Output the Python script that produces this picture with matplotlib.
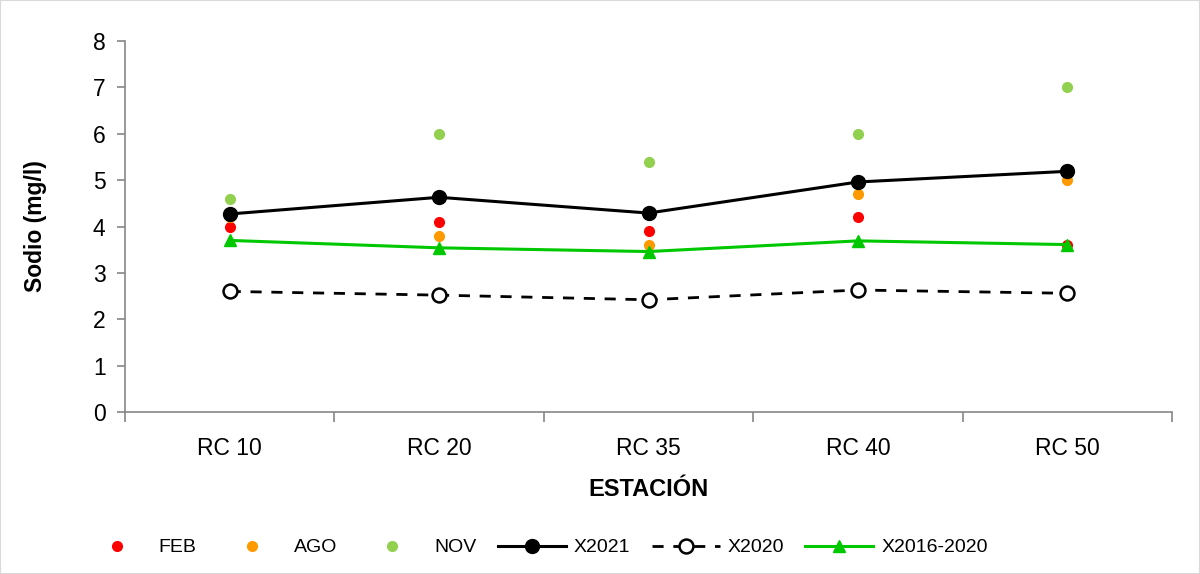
import numpy as np
import matplotlib.pyplot as plt
from matplotlib.patches import Rectangle

plt.rcParams['font.family'] = ['Liberation Sans', 'DejaVu Sans']

# datos
estaciones = ["RC 10", "RC 20", "RC 35", "RC 40", "RC 50"]
feb = [4.0, 4.1, 3.9, 4.2, 3.6]
ago = [4.2, 3.8, 3.6, 4.7, 5.0]
nov = [4.6, 6.0, 5.4, 6.0, 7.0]
x2021 = [4.27, 4.63, 4.29, 4.96, 5.19]
x2020 = [2.60, 2.52, 2.42, 2.63, 2.56]
x2016_2020 = [3.70, 3.54, 3.46, 3.69, 3.61]

fig = plt.figure(figsize=(12, 5.74), dpi=100)
ax = fig.add_axes([125/1200, 1-412/574, (1172-125)/1200, (412-41)/574])

x = np.arange(len(estaciones))

ax.plot(x, feb, 'o', color='#ff0000', ms=7, label='FEB', zorder=3)
ax.plot(x, ago, 'o', color='#ff9900', ms=7, label='AGO', zorder=3)
ax.plot(x, nov, 'o', color='#92d050', ms=7, label='NOV', zorder=3)
ax.plot(x, x2021, '-o', color='black', lw=2.2, ms=10, label='X2021', zorder=4)
ax.plot(x, x2020, '--o', color='black', lw=2, ms=10, mfc='white', mew=1.8,
        dashes=(4, 3.5), label='X2020', zorder=4)
ax.plot(x, x2016_2020, '-^', color='#00c800', lw=2.2, ms=9, label='X2016-2020', zorder=3)

ax.set_xlim(-0.5, len(estaciones) - 0.5)
ax.set_ylim(0, 8)
ax.set_yticks(range(0, 9))
ax.set_xticks(x)
ax.set_xticklabels(estaciones)
ax.set_xticks(np.arange(-0.5, len(estaciones), 1), minor=True)
ax.tick_params(axis='x', which='major', length=0, labelsize=16.5, pad=18)
ax.tick_params(axis='x', which='minor', length=7, color='#868686', width=1.2)
ax.tick_params(axis='y', length=6, color='#868686', width=1.2, labelsize=16.5, pad=8)

for s in ['top', 'right']:
    ax.spines[s].set_visible(False)
for s in ['left', 'bottom']:
    ax.spines[s].set_color('#868686')
    ax.spines[s].set_linewidth(1.2)

ax.set_xlabel('ESTACIÓN', fontsize=17, fontweight='bold', labelpad=13)
ax.set_ylabel('Sodio (mg/l)', fontsize=16.5, fontweight='bold', labelpad=33)

fig.legend(loc='lower center', bbox_to_anchor=(0.446, 0.0), ncol=6, frameon=False,
           fontsize=14, handlelength=3.5, handletextpad=0.4, columnspacing=1.1,
           numpoints=1)

fig.patches.append(Rectangle((0, 0), 1, 1, transform=fig.transFigure, fill=False,
                             edgecolor='#d9d9d9', lw=1.5))

fig.savefig('out.png', dpi=100)
